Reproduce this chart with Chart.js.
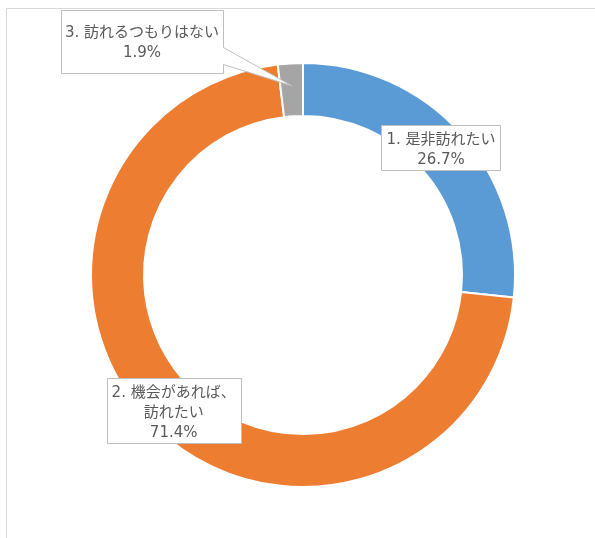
<!DOCTYPE html>
<html><head><meta charset="utf-8">
<script src="https://cdn.jsdelivr.net/npm/chart.js@4/dist/chart.umd.min.js"></script>
<style>html,body{margin:0;padding:0;background:#fff;} canvas{display:block;}</style>
</head><body>
<canvas id="c" width="595" height="538"></canvas>
<script>
// ---- data ----
const categories = ['1. 是非訪れたい', '2. 機会があれば、訪れたい', '3. 訪れるつもりはない'];
const labelLines = [['1. 是非訪れたい'], ['2. 機会があれば、', '訪れたい'], ['3. 訪れるつもりはない']];
const values = [26.7, 71.4, 1.9];
const colors = ['#5B9BD5', '#ED7D31', '#A5A5A5'];

// ---- label styles (offsets relative to each arc's mid point) ----
const FONT = '15px "DejaVu Sans", "Noto Sans CJK JP", sans-serif';
const TEXT_COLOR = '#595959';
const BOX_BORDER = '#BFBFBF';
const labelStyle = [
  {dx: 0, dy: -3.5, padX: 5, extraTop: 0, extraBottom: 0},
  {dx: 1, dy: 3.5, padX: 5, extraTop: 0, extraBottom: 0},
  {dx: -150, dy: -48.5, padX: 5, extraTop: 8, extraBottom: 10, fixedW: 162,
   callout: {y1: 37, y2: 54, tipDx: 0, tipDy: -4}}
];

const framePlugin = {
  id: 'frame',
  beforeDraw(chart) {
    const ctx = chart.ctx;
    ctx.save();
    ctx.strokeStyle = '#D9D9D9';
    ctx.lineWidth = 1;
    ctx.beginPath();
    ctx.moveTo(6.5, chart.height);
    ctx.lineTo(6.5, 8.5);
    ctx.lineTo(chart.width, 8.5);
    ctx.stroke();
    ctx.restore();
  }
};

const labelPlugin = {
  id: 'boxLabels',
  afterDatasetsDraw(chart) {
    const ctx = chart.ctx;
    const meta = chart.getDatasetMeta(0);
    ctx.save();
    ctx.font = FONT;
    ctx.textAlign = 'center';
    ctx.textBaseline = 'middle';
    meta.data.forEach((arc, i) => {
      const p = arc.getProps(['x', 'y', 'startAngle', 'endAngle', 'innerRadius', 'outerRadius'], true);
      const mid = (p.startAngle + p.endAngle) / 2;
      const r = (p.innerRadius + p.outerRadius) / 2;
      const ax = p.x + Math.cos(mid) * r;
      const ay = p.y + Math.sin(mid) * r;
      const st = labelStyle[i];
      const lines = labelLines[i].concat([values[i].toFixed(1) + '%']);
      let tw = 0;
      lines.forEach(l => { tw = Math.max(tw, ctx.measureText(l).width); });
      const w = st.fixedW || Math.round(tw + 2 * st.padX);
      const h = 25 + 20 * (lines.length - 1) + st.extraTop + st.extraBottom;
      const cx = ax + st.dx, cy = ay + st.dy;
      const left = Math.round(cx - w / 2) + 0.5, top = Math.round(cy - h / 2) + 0.5;
      const right = left + w, bottom = top + h;
      ctx.beginPath();
      ctx.moveTo(left, top);
      ctx.lineTo(right, top);
      if (st.callout) {
        const c = st.callout;
        ctx.lineTo(right, top + c.y1);
        ctx.lineTo(ax + c.tipDx, ay + c.tipDy);
        ctx.lineTo(right, top + c.y2);
      }
      ctx.lineTo(right, bottom);
      ctx.lineTo(left, bottom);
      ctx.closePath();
      ctx.fillStyle = '#FFFFFF';
      ctx.fill();
      ctx.strokeStyle = BOX_BORDER;
      ctx.lineWidth = 1;
      ctx.stroke();
      ctx.fillStyle = TEXT_COLOR;
      lines.forEach((l, k) => {
        ctx.fillText(l, cx, top + 15 + st.extraTop + 20 * k);
      });
    });
    ctx.restore();
  }
};

new Chart(document.getElementById('c'), {
  type: 'doughnut',
  data: {
    labels: categories,
    datasets: [{
      data: values,
      backgroundColor: colors,
      borderColor: '#FFFFFF',
      borderWidth: 2,
      hoverOffset: 0
    }]
  },
  options: {
    responsive: false,
    devicePixelRatio: 1,
    animation: false,
    cutout: '75%',
    radius: 212,
    layout: {padding: {left: 11, right: 0, top: 12, bottom: 0}},
    plugins: {legend: {display: false}, tooltip: {enabled: false}}
  },
  plugins: [framePlugin, labelPlugin]
});
</script>
</body></html>
